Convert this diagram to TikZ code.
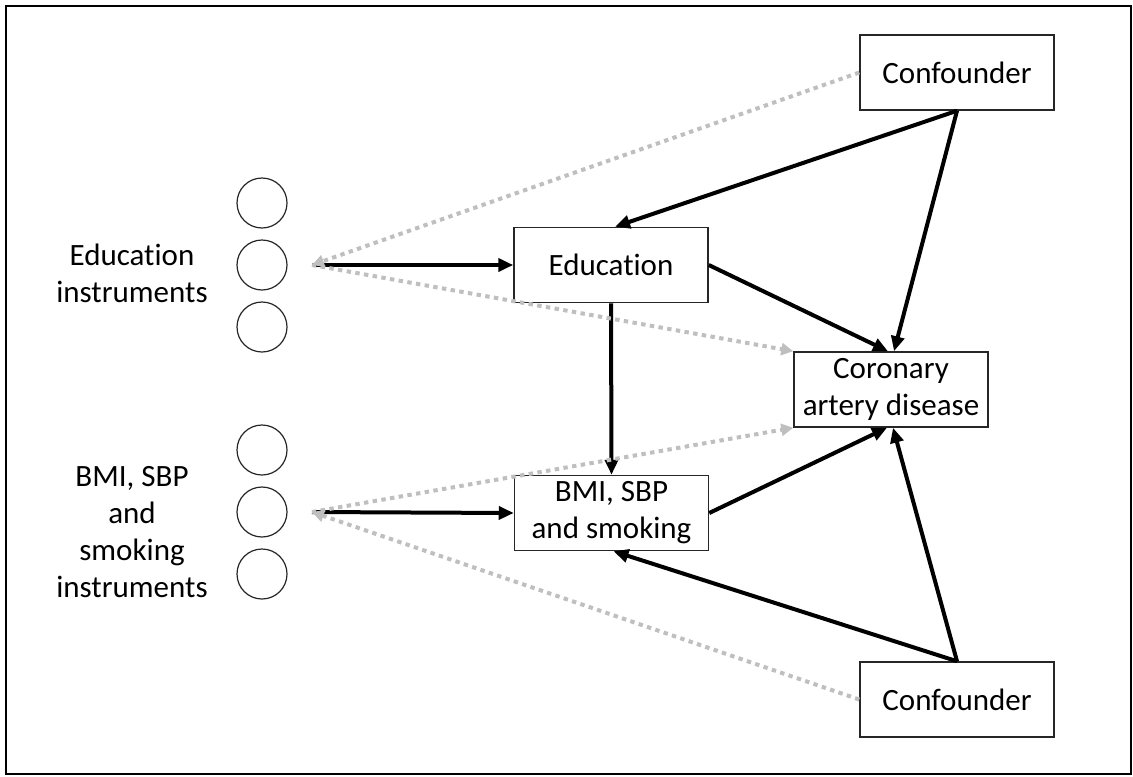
\documentclass[tikz,border=0pt]{standalone}
\usepackage{fontspec}
\setmainfont{Carlito}[Ligatures=NoCommon]
\usetikzlibrary{arrows.meta}
\newcommand\diagfont{\fontsize{15.5pt}{18.5pt}\selectfont}
\begin{document}
\begin{tikzpicture}[x=0.5pt,y=-0.5pt,
  box/.style={draw=black!85, line width=0.75pt, minimum width=97pt,
    minimum height=37.5pt, inner sep=0pt, align=center, font=\diagfont},
  inst/.style={circle, draw=black!85, line width=0.6pt, minimum size=25pt, inner sep=0pt},
  lab/.style={align=center, inner sep=0pt, font=\diagfont},
  causal/.style={line width=2pt, -{Triangle[length=7.5pt,width=6.5pt]}},
  weak/.style={draw=gray!50, line width=2pt, dash pattern=on 2.2pt off 2.2pt,
    -{Triangle[length=6pt,width=6pt]}}]

% page and outer frame
\useasboundingbox (0,0) rectangle (1133,776);
\draw[line width=1pt] (6,6) rectangle (1131,774);

% instrument circles
\node[inst] (e1) at (262,203) {};
\node[inst] (e2) at (262,265) {};
\node[inst] (e3) at (262,327) {};
\node[inst] (b1) at (262,450) {};
\node[inst] (b2) at (262,512) {};
\node[inst] (b3) at (262,574) {};

% instrument labels (anchored on the baseline of their last line)
\node[lab, anchor=base] (elab) at (132,302) {Education\\instruments};
\node[lab, anchor=base] (blab) at (132,597) {BMI, SBP\\and\\smoking\\instruments};

% variables
\node[box] (confT) at (957,72.5) {Confounder};
\node[box] (edu) at (611,265) {Education};
\node[box] (cad) at (891,389.5) {Coronary\\artery disease};
\node[box] (bmi) at (611.5,513) {BMI, SBP\\and smoking};
\node[box] (confB) at (957,699.5) {Confounder};

% points where the instrument arrows meet
\coordinate (ei) at (312,265);
\coordinate (bi) at (312,512);

% causal paths
\draw[causal] (ei) -- (edu.west);
\draw[causal] (bi) -- (bmi.west);
\draw[causal] (confT.south) -- ([xshift=2pt]edu.north);
\draw[causal] (confT.south) -- ([xshift=1.5pt]cad.north);
\draw[causal] (edu.east) -- ([xshift=-1.5pt]cad.north);
\draw[causal] (edu.south) -- (bmi.north);
\draw[causal] (bmi.east) -- ([xshift=-2pt]cad.south);
\draw[causal] (confB.north) -- ([xshift=1pt]cad.south);
\draw[causal] (confB.north) -- ([xshift=1pt]bmi.south);

% excluded (dotted) paths
\draw[weak] (confT.west) -- (ei);
\draw[weak] (ei) -- (cad.north west);
\draw[weak] (bi) -- (cad.south west);
\draw[weak] (confB.west) -- (bi);
\end{tikzpicture}
\end{document}
